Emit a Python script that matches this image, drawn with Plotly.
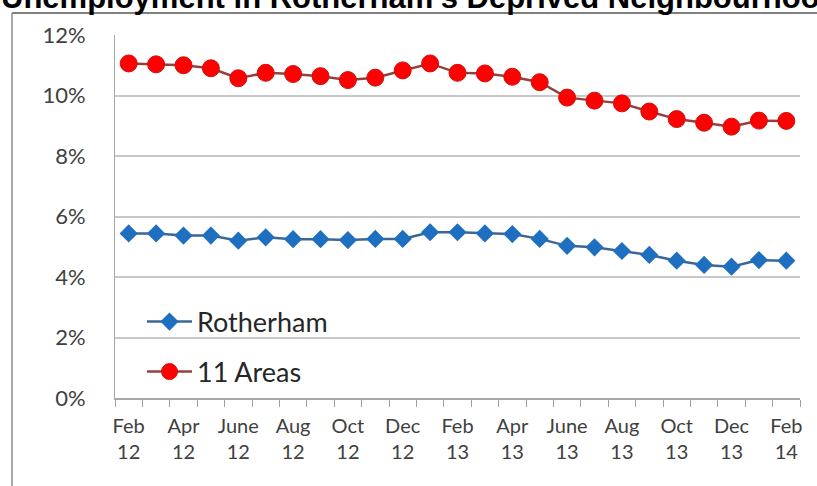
import plotly.graph_objects as go

months = ["Feb 12", "Mar 12", "Apr 12", "May 12", "June 12", "July 12", "Aug 12", "Sept 12",
          "Oct 12", "Nov 12", "Dec 12", "Jan 13", "Feb 13", "Mar 13", "Apr 13", "May 13",
          "June 13", "July 13", "Aug 13", "Sept 13", "Oct 13", "Nov 13", "Dec 13", "Jan 14", "Feb 14"]
rotherham = [5.44, 5.44, 5.37, 5.37, 5.20, 5.31, 5.25, 5.25, 5.22, 5.26, 5.26, 5.48, 5.48,
             5.44, 5.42, 5.26, 5.03, 4.98, 4.86, 4.73, 4.54, 4.40, 4.34, 4.56, 4.54]
areas11 = [11.06, 11.03, 11.00, 10.90, 10.57, 10.75, 10.71, 10.64, 10.51, 10.59, 10.83, 11.06,
           10.75, 10.73, 10.62, 10.44, 9.93, 9.83, 9.74, 9.47, 9.22, 9.10, 8.97, 9.17, 9.16]
y_ticks = [0, 2, 4, 6, 8, 10, 12]
y_tick_text = ["0%", "2%", "4%", "6%", "8%", "10%", "12%"]
title_text = "Unemployment in Rotherham's Deprived Neighbourhoods"

tick_text = [m.replace(" ", "<br>") if i % 2 == 0 else "" for i, m in enumerate(months)]

W, H = 817, 486
ML, MR, MT, MB = 115, 17, 35, 88
PW, PH = W - ML - MR, H - MT - MB


def px_x(px):
    return (px - ML) / PW


def px_y(py):
    return (H - MB - py) / PH


fig = go.Figure()
fig.add_trace(go.Scatter(
    x=months, y=rotherham, name="Rotherham", mode="lines+markers",
    line=dict(color="#3b6796", width=2.5),
    marker=dict(symbol="diamond", size=14, color="#1f6fc0", line=dict(color="#1f6fc0", width=0)),
    legend="legend", showlegend=True,
))
fig.add_trace(go.Scatter(
    x=months, y=areas11, name="11 Areas", mode="lines+markers",
    line=dict(color="#94403f", width=2.5),
    marker=dict(symbol="circle", size=17, color="#ff0000", line=dict(color="#d01010", width=1)),
    legend="legend2", showlegend=True,
))

legend_font = dict(family="Lato", size=27, color="#262626")
fig.update_layout(
    width=W, height=H,
    margin=dict(l=ML, r=MR, t=MT, b=MB),
    paper_bgcolor="white", plot_bgcolor="white",
    showlegend=True,
    legend=dict(x=px_x(142), y=px_y(322), xanchor="left", yanchor="middle",
                font=legend_font, bgcolor="rgba(0,0,0,0)", itemwidth=45),
    legend2=dict(x=px_x(142), y=px_y(372), xanchor="left", yanchor="middle",
                 font=legend_font, bgcolor="rgba(0,0,0,0)", itemwidth=45, visible=True),
    xaxis=dict(
        type="category", range=[-0.5, len(months) - 0.5],
        tickvals=months, ticktext=tick_text, tickson="boundaries",
        ticks="outside", ticklen=7, tickcolor="#a0a0a0", tickwidth=1,
        showline=True, linecolor="#a6a6a6", linewidth=1.5,
        showgrid=False, tickangle=0, ticklabelstandoff=9,
        tickfont=dict(family="Lato", size=20, color="#404040"),
    ),
    yaxis=dict(
        range=[0, 12], tickvals=y_ticks, ticktext=y_tick_text,
        showgrid=True, gridcolor="#c8c8c8", gridwidth=1.5,
        showline=True, linecolor="#a6a6a6", linewidth=1,
        zeroline=False, ticks="", ticklabelstandoff=24,
        tickfont=dict(family="Lato", size=22, color="#404040"),
    ),
    shapes=[
        dict(type="line", xref="paper", yref="paper", x0=px_x(12), x1=px_x(830),
             y0=px_y(13), y1=px_y(13), line=dict(color="#7f7f7f", width=2)),
        dict(type="line", xref="paper", yref="paper", x0=px_x(12), x1=px_x(12),
             y0=px_y(13), y1=px_y(495), line=dict(color="#8c8c8c", width=1.5)),
    ],
    annotations=[
        dict(text="<b>" + title_text + "</b>", xref="paper", yref="paper",
             x=px_x(-1), y=px_y(-2), xanchor="left", yanchor="middle", showarrow=False,
             font=dict(family="Liberation Sans", size=31, color="black")),
    ],
)

fig.write_html("out.html")
